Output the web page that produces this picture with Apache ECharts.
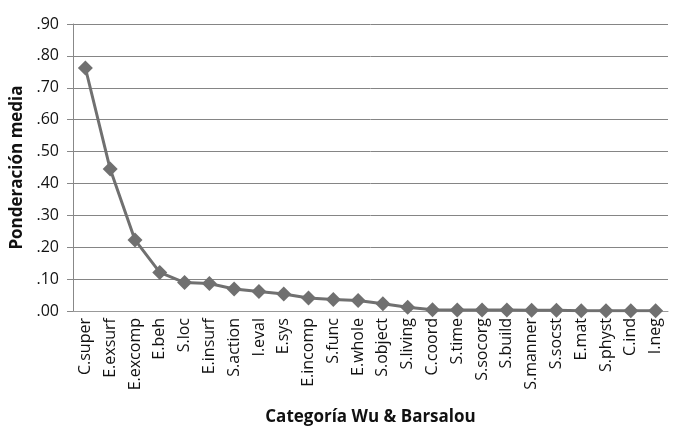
<!DOCTYPE html>
<html>
<head>
<meta charset="utf-8">
<script src="https://cdn.jsdelivr.net/npm/echarts@6/dist/echarts.min.js"></script>
<style>html,body{margin:0;padding:0;background:#fff;}</style>
</head>
<body>
<div id="main" style="width:680px;height:438px;"></div>
<script>
var categories = ['C.super','E.exsurf','E.excomp','E.beh','S.loc','E.insurf','S.action','I.eval','E.sys','E.incomp','S.func','E.whole','S.object','S.living','C.coord','S.time','S.socorg','S.build','S.manner','S.socst','E.mat','S.physt','C.ind','I.neg'];
var values = [0.762, 0.445, 0.223, 0.121, 0.089, 0.086, 0.069, 0.061, 0.053, 0.041, 0.036, 0.033, 0.023, 0.012, 0.004, 0.003, 0.003, 0.003, 0.002, 0.002, 0.001, 0.001, 0.001, 0.001];

var myChart = echarts.init(document.getElementById('main'));
var font = '"Open Sans", "Liberation Sans", sans-serif';
var option = {
    animation: false,
    grid: { left: 73, right: 12, top: 24, bottom: 127 },
    xAxis: {
        type: 'category',
        data: categories,
        boundaryGap: true,
        name: 'Categoría Wu & Barsalou',
        nameLocation: 'middle',
        nameGap: 98,
        nameTextStyle: { fontFamily: font, fontSize: 17, fontWeight: 'bold', color: '#111' },
        axisLine: { lineStyle: { color: '#999', width: 1 } },
        axisTick: { show: false },
        axisLabel: { rotate: 90, interval: 0, fontFamily: font, fontSize: 16, color: '#111', margin: 7 }
    },
    yAxis: {
        type: 'value',
        min: 0, max: 0.9, interval: 0.1,
        name: 'Ponderación media',
        nameLocation: 'middle',
        nameGap: 46,
        nameTextStyle: { fontFamily: font, fontSize: 17, fontWeight: 'bold', color: '#111' },
        axisLine: { show: true, lineStyle: { color: '#888' } },
        axisTick: { show: true, length: 6, lineStyle: { color: '#888' } },
        splitLine: { lineStyle: { color: '#858585', width: 1 } },
        axisLabel: {
            fontFamily: font, fontSize: 16, color: '#111', margin: 14,
            formatter: function (v) { return v.toFixed(2).replace(/^0/, ''); }
        }
    },
    series: [{
        type: 'line',
        data: values,
        symbol: 'diamond',
        symbolSize: 15,
        lineStyle: { color: '#707070', width: 3 },
        itemStyle: { color: '#707070' }
    }]
};
myChart.setOption(option);
</script>
</body>
</html>
